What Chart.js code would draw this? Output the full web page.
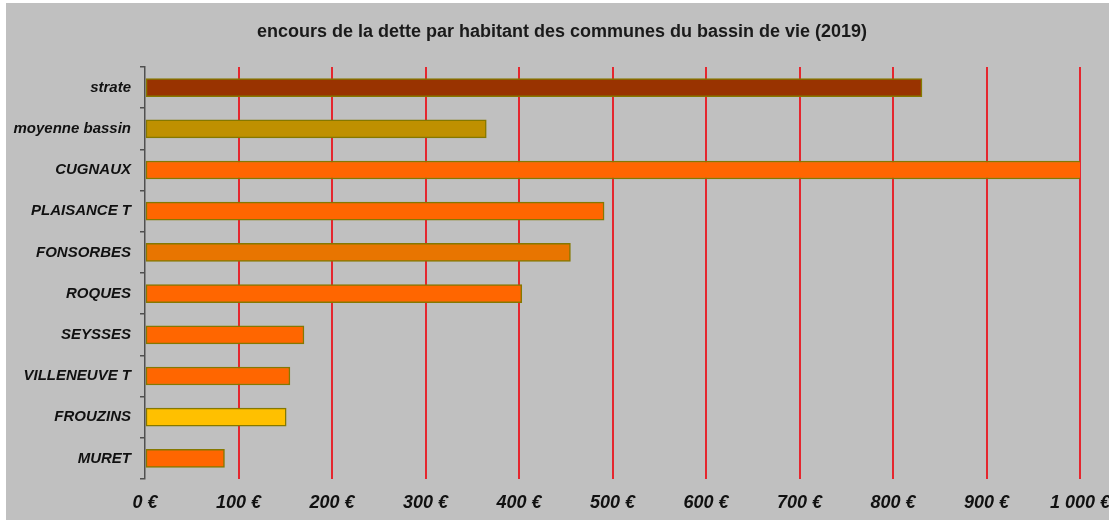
<!DOCTYPE html>
<html>
<head>
<meta charset="utf-8">
<script src="https://cdn.jsdelivr.net/npm/chart.js@4/dist/chart.umd.min.js"></script>
<style>
  html, body { margin: 0; padding: 0; background: #fff; overflow: hidden; }
  #wrap { position: absolute; left: 6px; top: 3px; width: 1103px; height: 517px; background: #c0c0c0; }
</style>
</head>
<body>
<div id="wrap"><canvas id="chart" width="1103" height="517"></canvas></div>
<script>
const communes = ['strate', 'moyenne bassin', 'CUGNAUX', 'PLAISANCE T', 'FONSORBES', 'ROQUES', 'SEYSSES', 'VILLENEUVE T', 'FROUZINS', 'MURET'];
const encours = [831, 365, 1002, 491, 455, 403, 170, 155, 151, 85];
const barColors = ['#993300', '#bf9000', '#ff6600', '#ff6600', '#e87500', '#ff6600', '#ff6600', '#ff6600', '#ffc000', '#ff6600'];
const xTicks = [0, 100, 200, 300, 400, 500, 600, 700, 800, 900, 1000];
const titre = 'encours de la dette par habitant des communes du bassin de vie (2019)';

const fmt = v => (v >= 1000 ? Math.floor(v / 1000) + ' ' + String(v % 1000).padStart(3, '0') : v) + ' €';

// title centred on the whole picture, not on the plot box
const titrePlugin = {
  id: 'titre',
  afterDraw: chart => {
    const ctx = chart.ctx;
    ctx.save();
    ctx.font = 'bold 18px "Liberation Sans", Arial';
    ctx.fillStyle = '#1a1a1a';
    ctx.textAlign = 'center';
    ctx.textBaseline = 'middle';
    ctx.fillText(titre, 556, 29);
    ctx.restore();
  }
};

new Chart(document.querySelector('#chart'), {
  type: 'bar',
  data: {
    labels: communes,
    datasets: [{
      data: encours,
      backgroundColor: barColors,
      borderColor: '#857800',
      borderWidth: 1.5,
      borderSkipped: false,
      barThickness: 18
    }]
  },
  options: {
    indexAxis: 'y',
    responsive: false,
    animation: false,
    layout: { padding: { top: 64, right: 29, left: 0, bottom: 0 } },
    plugins: {
      legend: { display: false },
      tooltip: { enabled: false },
      title: { display: false }
    },
    scales: {
      x: {
        min: 0, max: 1000,
        z: 1,
        afterBuildTicks: s => { s.ticks = xTicks.map(v => ({ value: v })); },
        afterFit: s => { s.height = 41; s.paddingLeft = 0; s.paddingRight = 0; },
        border: { display: false },
        grid: {
          color: ctx => ctx.tick && ctx.tick.value === 0 ? 'rgba(0,0,0,0)' : '#e5262e',
          lineWidth: 2,
          drawTicks: false
        },
        ticks: {
          padding: 13,
          color: '#111',
          font: { family: 'Liberation Sans, Arial', size: 18, weight: 'bold', style: 'italic' },
          callback: v => fmt(v),
          maxRotation: 0
        }
      },
      y: {
        afterFit: s => { s.width = 139; },
        border: { display: true, color: '#505050', width: 1.5 },
        grid: {
          offset: true,
          drawOnChartArea: false,
          drawTicks: true,
          tickLength: 5,
          color: '#505050',
          lineWidth: 1.5
        },
        ticks: {
          padding: 9,
          color: '#111',
          font: { family: 'Liberation Sans, Arial', size: 15, weight: 'bold', style: 'italic' }
        }
      }
    }
  },
  plugins: [titrePlugin]
});
</script>
</body>
</html>
